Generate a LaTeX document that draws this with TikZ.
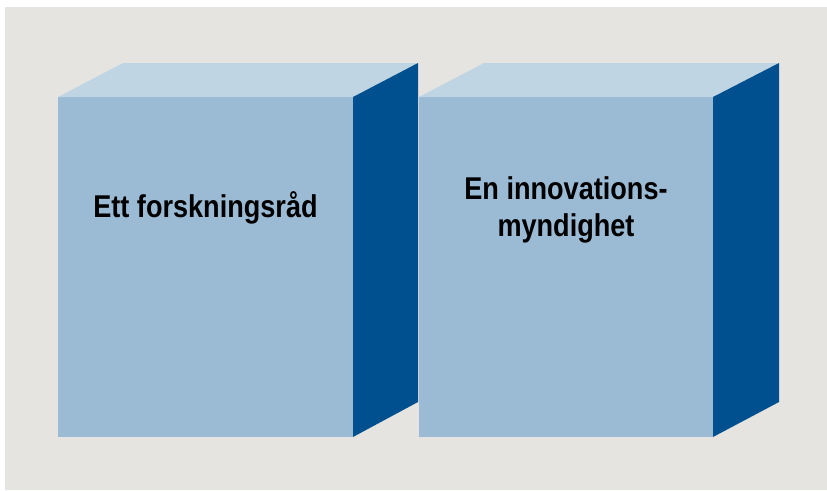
\documentclass[tikz,border=0pt]{standalone}
\usepackage{fontspec}
\setmainfont{Liberation Sans}
\newfontfamily\boxfont[FakeStretch=0.86]{Liberation Sans}
\definecolor{bggrey}{HTML}{E5E4E0}
\definecolor{frontblue}{HTML}{9BBAD4}
\definecolor{topblue}{HTML}{BFD5E4}
\definecolor{sideblue}{HTML}{00508F}
\begin{document}
\begin{tikzpicture}[x=1pt,y=-1pt,
  frontface/.style={fill=frontblue},
  topface/.style={fill=topblue},
  sideface/.style={fill=sideblue},
  boxlabel/.style={font=\boxfont\fontsize{31.5}{37}\selectfont\bfseries, text=black, align=center, inner sep=0pt, anchor=base}]
\useasboundingbox (0,0) rectangle (827,490);
\fill[white] (0,0) rectangle (827,490);
\fill[bggrey] (5,7) rectangle (827,490);
% box 1
\fill[frontface] (58,97) rectangle (353,437);
\fill[topface] (58,97) -- (123,63) -- (418,63) -- (353,97) -- cycle;
\fill[sideface] (353,97) -- (418,63) -- (418,402) -- (353,437) -- cycle;
% box 2
\fill[frontface] (419,97) rectangle (713,437);
\fill[topface] (419,97) -- (484,63) -- (779,63) -- (713,97) -- cycle;
\fill[sideface] (713,97) -- (779,63) -- (779,402) -- (713,437) -- cycle;
\node[boxlabel] (t1) at (205.5,217) {Ett forskningsråd};
\node[boxlabel] (t2) at (566,236) {En innovations-\\myndighet};
\end{tikzpicture}
\end{document}
